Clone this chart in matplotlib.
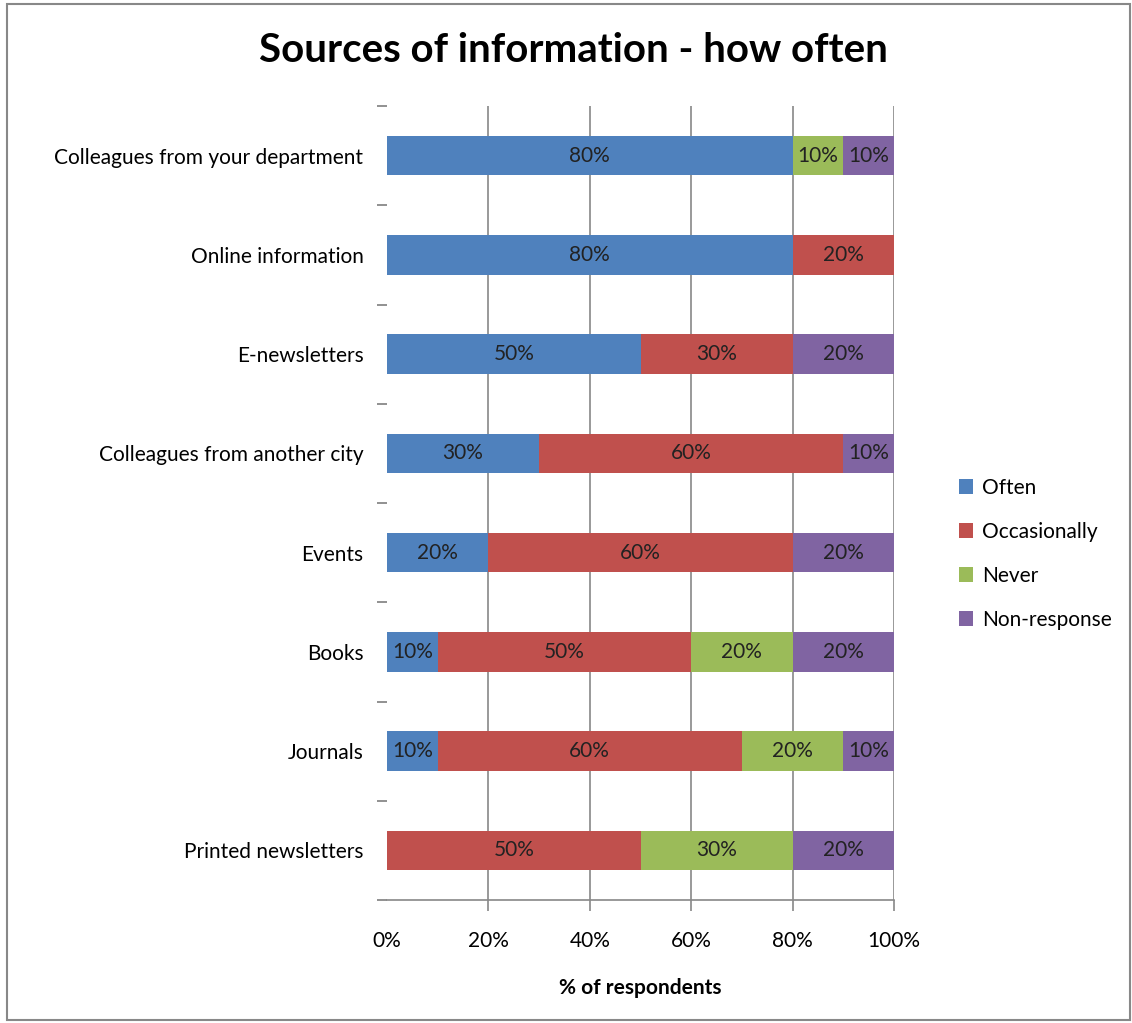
import numpy as np
import matplotlib.pyplot as plt
from matplotlib.patches import Rectangle

# Survey data: share of respondents per source (top to bottom as listed)
sources = ["Colleagues from your department", "Online information", "E-newsletters",
           "Colleagues from another city", "Events", "Books", "Journals",
           "Printed newsletters"]
often = [80, 80, 50, 30, 20, 10, 10, 0]
occasionally = [0, 20, 30, 60, 60, 50, 60, 50]
never = [10, 0, 0, 0, 0, 20, 20, 30]
non_response = [10, 0, 20, 10, 20, 20, 10, 20]

series_names = ["Often", "Occasionally", "Never", "Non-response"]
colors = ["#4F81BD", "#C0504D", "#9BBB59", "#8064A2"]

plt.rcParams['font.family'] = ['Lato', 'DejaVu Sans']
fs = 15

fig = plt.figure(figsize=(11.32, 10.23), dpi=100)
ax = fig.add_axes([387 / 1132, 1 - 900 / 1023, (894 - 387) / 1132, (900 - 106) / 1023])

# Outer chart border
fig.patches.append(Rectangle((7 / 1132, 0.003), 1 - 9 / 1132, 1 - 4 / 1023 - 0.003,
                             transform=fig.transFigure, fill=False,
                             edgecolor="#888888", linewidth=1.5))

y = np.arange(len(sources))[::-1]
left = np.zeros(len(sources))
for name, vals, col in zip(series_names, [often, occasionally, never, non_response], colors):
    vals = np.array(vals, dtype=float)
    ax.barh(y, vals, left=left, height=0.4, color=col, label=name, zorder=3)
    for yi, l, v in zip(y, left, vals):
        if v > 0:
            ax.text(l + v / 2, yi, f"{v:.0f}%", ha="center", va="center",
                    fontsize=fs, color="#222222", zorder=4)
    left += vals

ax.set_xlim(0, 100)
ax.set_ylim(-0.5, len(sources) - 0.5)
ax.set_xticks(np.arange(0, 101, 20))
ax.set_xticklabels([f"{t}%" for t in range(0, 101, 20)], fontsize=fs)
ax.set_yticks(y)
ax.set_yticklabels(sources, fontsize=fs)
ax.set_yticks(np.arange(-0.5, len(sources), 1), minor=True)

ax.tick_params(axis="y", which="major", length=0, pad=17)
ax.tick_params(axis="y", which="minor", length=7, width=1.3, color="#888888", pad=0)
ax.tick_params(axis="x", length=8, width=1.2, color="#888888", pad=14)
# no tick mark under 0%
ax.xaxis.get_major_ticks()[0].tick1line.set_visible(False)

# vertical gridlines at 20%..100% (none at 0%)
for gx in range(20, 101, 20):
    ax.axvline(gx, color="#888888", linewidth=1.2, zorder=0)
for side in ["left", "top", "right"]:
    ax.spines[side].set_visible(False)
ax.spines["bottom"].set_color("#888888")
ax.spines["bottom"].set_linewidth(1.2)

ax.set_xlabel("% of respondents", fontsize=fs, fontweight="bold", labelpad=20)
fig.suptitle("Sources of information - how often", fontsize=29, fontweight="bold",
             x=573 / 1132, y=1 - 50 / 1023, va="center")

ax.legend(loc="center left", bbox_to_anchor=(940 / 1132, 1 - 554 / 1023),
          bbox_transform=fig.transFigure, frameon=False, fontsize=fs,
          handlelength=0.7, handleheight=0.7, handletextpad=0.4, labelspacing=1.15)

fig.savefig("out.png", dpi=100)
